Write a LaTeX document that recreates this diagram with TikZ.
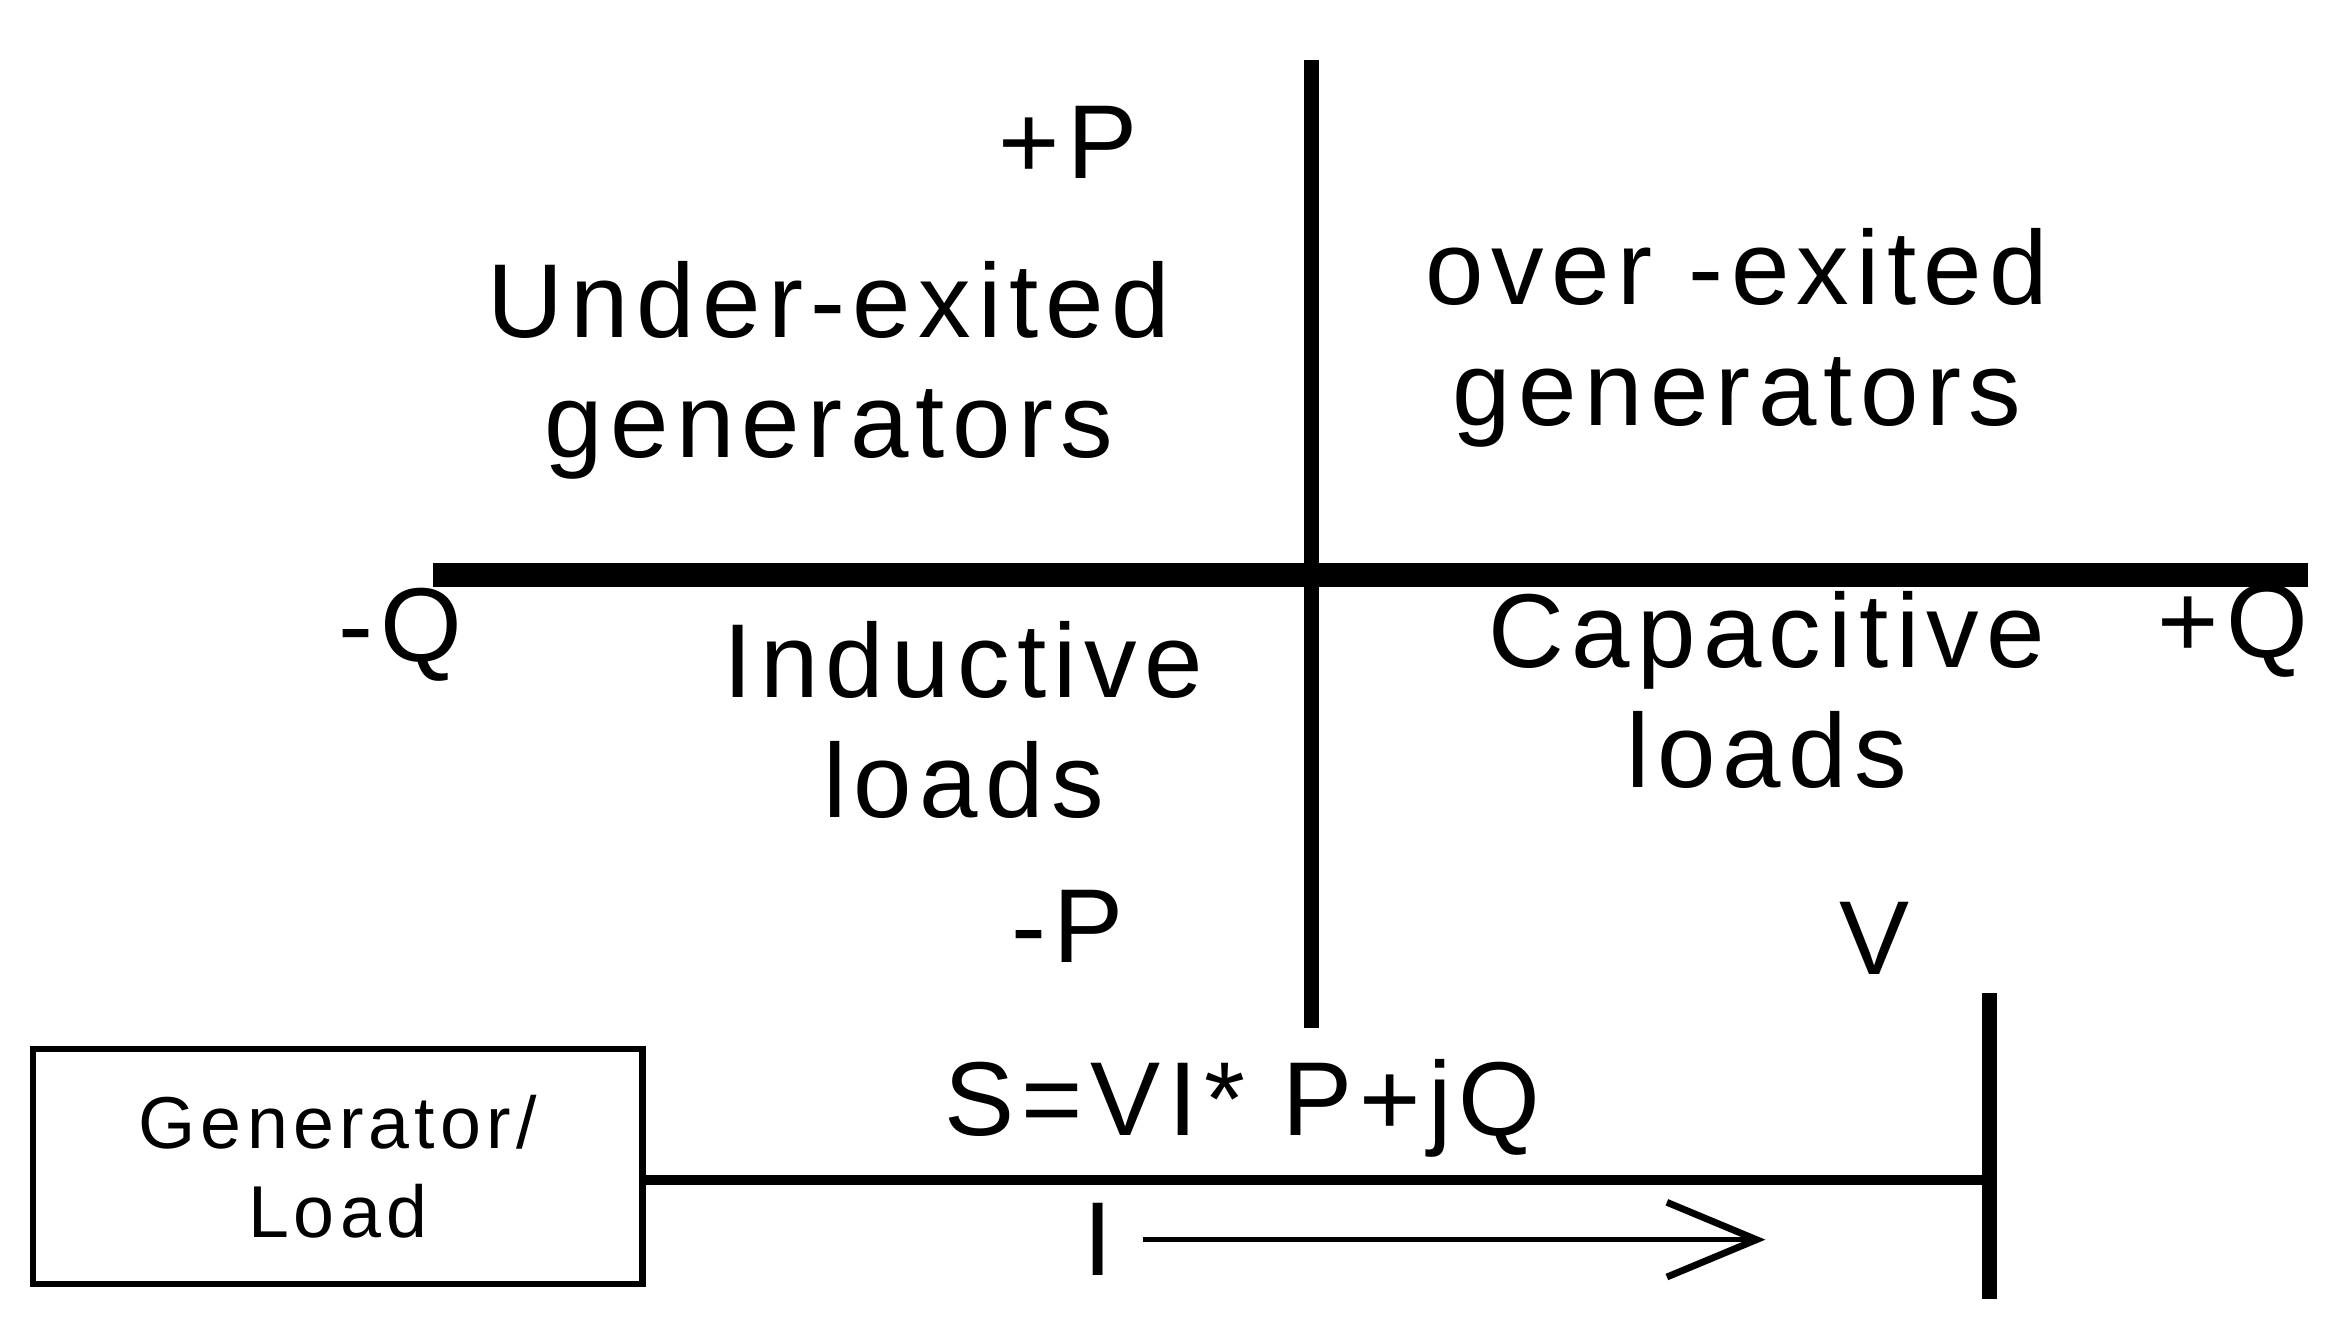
\documentclass[tikz,border=0pt]{standalone}
\usepackage{fontspec}
\setmainfont{Liberation Sans}[LetterSpace=7]
\usetikzlibrary{arrows.meta}
\begin{document}
\begin{tikzpicture}[x=0.01cm,y=-0.01cm,
  big/.style={font=\fontsize{20}{23}\selectfont,align=center,inner sep=0pt},
  small/.style={font=\fontsize{14}{17}\selectfont,align=center,inner sep=0pt}]
\useasboundingbox (0,0) rectangle (1560,889);
\coordinate (vt) at (878,40); \coordinate (vb) at (878,688);
\coordinate (hl) at (290,385); \coordinate (hr) at (1545,385);
\draw[line width=4.5pt] (hl) -- (hr);
\draw[line width=3pt] (vt) -- (vb);
\node[big] (pp) at (715,95) {+P};
\node[big] (ug) at (555,248) {Under-exited\\generators};
\node[big] (og) at (1163,226) {over -exited\\generators};
\node[big] (mq) at (268,425) {-Q};
\node[big] (il) at (645,482) {Inductive\\loads};
\node[big] (cl) at (1183,462) {Capacitive\\loads};
\node[big] (pq) at (1495,422) {+Q};
\node[big] (mp) at (715,620) {-P};
\node[big] (v) at (1255,628) {V};
\node[big] (s) at (832,742) {S=VI* P+jQ};
\node[draw,line width=1.2pt,minimum width=4.08cm,minimum height=1.57cm,small] (box) at (226,781) {Generator/\\Load};
\coordinate (bt) at (1332,665); \coordinate (bb) at (1332,870);
\draw[line width=3pt] (bt) -- (bb);
\draw[line width=1.8pt] (box.east |- 0,790) -- (1332,790);
\node[big] (i) at (735,830) {I};
\coordinate (as) at (765,830); \coordinate (ae) at (1182,830);
\draw[line width=1pt,-{Straight Barb[length=0.6cm,width=0.5cm,line width=1.3pt]}] (as) -- (ae);
\end{tikzpicture}
\end{document}
